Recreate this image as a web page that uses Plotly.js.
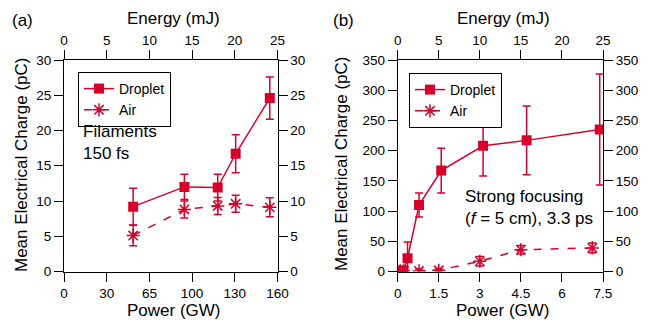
<!DOCTYPE html>
<html>
<head>
<meta charset="utf-8">
<script src="https://cdn.plot.ly/plotly-3.0.1.min.js"></script>
<style>html,body{margin:0;padding:0;background:#fff;}#chart{width:649px;height:320px;}</style>
</head>
<body>
<div id="chart"></div>
<script>
// ---- Data (energy in mJ on the shared linear axis) ----
const leftEnergy = [8.1, 14.1, 18.0, 20.1, 24.1];
const leftDroplet = [9.2, 12.0, 11.9, 16.7, 24.6];
const leftDropletErr = [2.6, 1.8, 1.9, 2.7, 3.0];
const leftAir = [5.1, 8.8, 9.3, 9.6, 9.1];
const leftAirErr = [1.45, 1.2, 1.2, 1.2, 1.35];

const rightDropletEnergy = [0.3, 0.7, 1.2, 2.6, 5.3, 10.4, 15.7, 24.6];
const rightDroplet = [1, 2, 22, 110, 167, 208, 217, 235];
const rightDropletErr = [1, 2, 27, 20, 37, 50, 57, 92];
const rightAirEnergy = [0.3, 0.7, 2.6, 5.0, 10.0, 15.0, 23.7];
const rightAir = [1, 1, 1, 2, 17, 36, 39];
const rightAirErr = [2, 3, 3, 3, 8, 7, 8];

const energyTicks = [0, 5, 10, 15, 20, 25];
const leftPowerLabels = ['0', '30', '65', '100', '130', '160'];
const rightPowerLabels = ['0', '1.5', '3', '4.5', '6', '7.5'];
const leftChargeTicks = [0, 5, 10, 15, 20, 25, 30];
const rightChargeTicks = [0, 50, 100, 150, 200, 250, 300, 350];

// ---- Styling ----
const RED = '#d7002a';
const W = 649, H = 320;
const px = v => v / W;
const py = v => 1 - v / H;
const FONT = 'Liberation Sans, Arial, Helvetica, sans-serif';

function dropTrace(x, y, e, xa, ya, lg) {
  return {
    x: x, y: y, name: 'Droplet', type: 'scatter', mode: 'lines+markers',
    xaxis: xa, yaxis: ya, legend: lg,
    line: {color: RED, width: 1.5},
    marker: {symbol: 'square', size: 10, color: RED},
    error_y: {type: 'data', array: e, visible: true, color: RED, thickness: 1.5, width: 4}
  };
}
function airTrace(x, y, e, xa, ya, lg) {
  return {
    x: x, y: y, name: 'Air', type: 'scatter', mode: 'lines+markers',
    xaxis: xa, yaxis: ya, legend: lg,
    line: {color: RED, width: 1.5, dash: '8px,9px'},
    marker: {symbol: 'asterisk-open', size: 11, color: RED, line: {color: RED, width: 1.5}},
    error_y: {type: 'data', array: e, visible: true, color: RED, thickness: 1.5, width: 4}
  };
}

// Air series drawn on the overlaying (top/right) axes, which share identical ranges,
// so that those mirrored axes are rendered.
const data = [
  dropTrace(leftEnergy, leftDroplet, leftDropletErr, 'x', 'y', 'legend'),
  airTrace(leftEnergy, leftAir, leftAirErr, 'x2', 'y2', 'legend'),
  dropTrace(rightDropletEnergy, rightDroplet, rightDropletErr, 'x3', 'y3', 'legend2'),
  airTrace(rightAirEnergy, rightAir, rightAirErr, 'x4', 'y4', 'legend2')
];

const tickFont = {family: FONT, size: 13.5, color: '#000'};
const baseAx = {
  showline: true, linecolor: '#000', linewidth: 1, ticks: 'outside', ticklen: 9,
  tickcolor: '#000', tickwidth: 1, showgrid: false, zeroline: false,
  tickfont: tickFont, fixedrange: true
};

const xL = [px(64), px(277.5)];
const xR = [px(397.7), px(603)];
const yD = [py(271.5), py(60)];

const layout = {
  width: W, height: H,
  margin: {l: 0, r: 0, t: 0, b: 0},
  paper_bgcolor: '#fff', plot_bgcolor: 'rgba(0,0,0,0)',
  font: {family: FONT, color: '#000'},
  xaxis: Object.assign({}, baseAx, {domain: xL, range: [0, 25], anchor: 'y', side: 'bottom',
    tickmode: 'array', tickvals: energyTicks, ticktext: leftPowerLabels}),
  xaxis2: Object.assign({}, baseAx, {range: [0, 25], anchor: 'y', overlaying: 'x', side: 'top',
    tickmode: 'array', tickvals: energyTicks}),
  yaxis: Object.assign({}, baseAx, {domain: yD, range: [0, 30], anchor: 'x', side: 'left',
    tickmode: 'array', tickvals: leftChargeTicks}),
  yaxis2: Object.assign({}, baseAx, {range: [0, 30], anchor: 'x', overlaying: 'y', side: 'right',
    tickmode: 'array', tickvals: leftChargeTicks}),
  xaxis3: Object.assign({}, baseAx, {domain: xR, range: [0, 25], anchor: 'y3', side: 'bottom',
    tickmode: 'array', tickvals: energyTicks, ticktext: rightPowerLabels}),
  xaxis4: Object.assign({}, baseAx, {range: [0, 25], anchor: 'y3', overlaying: 'x3', side: 'top',
    tickmode: 'array', tickvals: energyTicks}),
  yaxis3: Object.assign({}, baseAx, {domain: yD, range: [0, 350], anchor: 'x3', side: 'left',
    tickmode: 'array', tickvals: rightChargeTicks}),
  yaxis4: Object.assign({}, baseAx, {range: [0, 350], anchor: 'x3', overlaying: 'y3', side: 'right',
    tickmode: 'array', tickvals: rightChargeTicks}),
  legend: {x: px(78), y: py(72), xanchor: 'left', yanchor: 'top', bgcolor: '#fff',
    bordercolor: '#000', borderwidth: 1, font: {family: FONT, size: 14, color: '#000'},
    itemwidth: 30, tracegroupgap: 0},
  legend2: {x: px(409), y: py(73), xanchor: 'left', yanchor: 'top', bgcolor: '#fff',
    bordercolor: '#000', borderwidth: 1, font: {family: FONT, size: 14, color: '#000'},
    itemwidth: 30, tracegroupgap: 0},
  annotations: [
    {text: '(a)', x: px(10), y: py(20), xref: 'paper', yref: 'paper', xanchor: 'left', yanchor: 'middle', showarrow: false, font: {family: FONT, size: 17}},
    {text: '(b)', x: px(331), y: py(20), xref: 'paper', yref: 'paper', xanchor: 'left', yanchor: 'middle', showarrow: false, font: {family: FONT, size: 17}},
    {text: 'Energy (mJ)', x: px(173), y: py(19), xref: 'paper', yref: 'paper', xanchor: 'center', yanchor: 'middle', showarrow: false, font: {family: FONT, size: 17}},
    {text: 'Energy (mJ)', x: px(503), y: py(19), xref: 'paper', yref: 'paper', xanchor: 'center', yanchor: 'middle', showarrow: false, font: {family: FONT, size: 17}},
    {text: 'Power (GW)', x: px(174), y: py(310), xref: 'paper', yref: 'paper', xanchor: 'center', yanchor: 'middle', showarrow: false, font: {family: FONT, size: 17}},
    {text: 'Power (GW)', x: px(503), y: py(310), xref: 'paper', yref: 'paper', xanchor: 'center', yanchor: 'middle', showarrow: false, font: {family: FONT, size: 17}},
    {text: 'Mean Electrical Charge (pC)', x: px(21), y: py(165), xref: 'paper', yref: 'paper', xanchor: 'center', yanchor: 'middle', textangle: -90, showarrow: false, font: {family: FONT, size: 17}},
    {text: 'Mean Electrical Charge (pC)', x: px(341), y: py(164), xref: 'paper', yref: 'paper', xanchor: 'center', yanchor: 'middle', textangle: -90, showarrow: false, font: {family: FONT, size: 17}},
    {text: 'Filaments<br>150 fs', x: px(81), y: py(120), xref: 'paper', yref: 'paper', xanchor: 'left', yanchor: 'top', align: 'left', showarrow: false, font: {family: FONT, size: 17}},
    {text: 'Strong focusing<br>(<i>f</i> = 5 cm), 3.3 ps', x: px(463), y: py(185), xref: 'paper', yref: 'paper', xanchor: 'left', yanchor: 'top', align: 'left', showarrow: false, font: {family: FONT, size: 17}}
  ]
};

Plotly.newPlot('chart', data, layout, {displayModeBar: false, staticPlot: true});
</script>
</body>
</html>
